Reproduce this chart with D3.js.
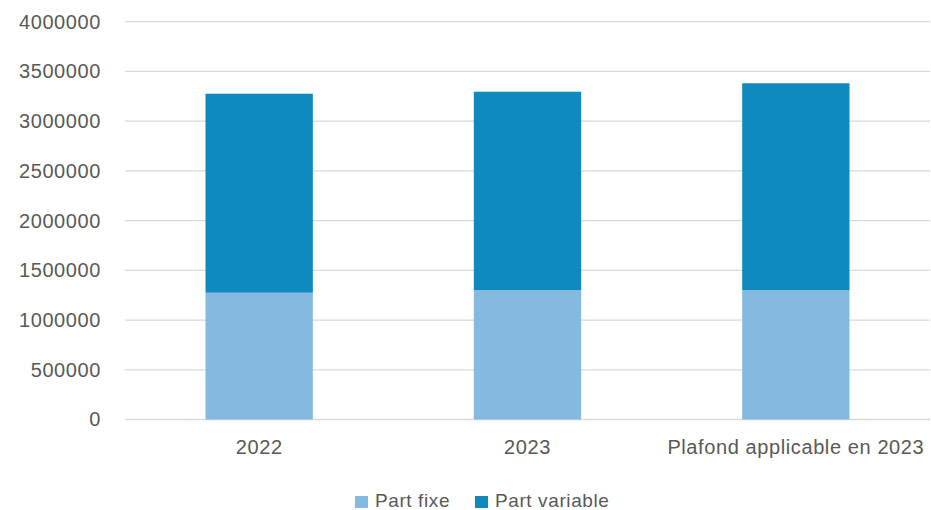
<!DOCTYPE html>
<html>
<head>
<meta charset="utf-8">
<script src="https://cdn.jsdelivr.net/npm/d3@7"></script>
<style>
  body { margin: 0; background: #fff; }
  svg text { font-family: 'Liberation Sans', Arial, sans-serif; fill: #595959; letter-spacing: 0.6px; }
</style>
</head>
<body>
<div id="chart"></div>
<script>
// Rémunération : part fixe / part variable
const categories = ['2022', '2023', 'Plafond applicable en 2023'];
const partFixe = [1275000, 1302000, 1302000];
const partVariable = [2001000, 1994000, 2079000];
const yTicks = [0, 500000, 1000000, 1500000, 2000000, 2500000, 3000000, 3500000, 4000000];
const seriesNames = ['Part fixe', 'Part variable'];
const seriesColors = ['#85b9e0', '#0e8abe'];

(function () {
    const width = 931, height = 510;
    const margin = { top: 21.7, right: 1, bottom: 90.5, left: 125 };
    const innerW = width - margin.left - margin.right;
    const innerH = height - margin.top - margin.bottom;
    const font = "'Liberation Sans', Arial, sans-serif";

    const svg = d3.select('#chart').append('svg')
        .attr('width', width).attr('height', height);
    const g = svg.append('g').attr('transform', `translate(${margin.left},${margin.top})`);

    const x = d3.scaleBand().domain(categories).range([0, innerW])
        .paddingInner(0.6).paddingOuter(0.3);
    const y = d3.scaleLinear().domain([0, 4000000]).range([innerH, 0]);

    // Grid
    g.selectAll('.hgrid').data(yTicks).enter().append('line')
        .attr('x1', 0).attr('x2', innerW)
        .attr('y1', d => y(d)).attr('y2', d => y(d))
        .attr('stroke', '#d9d9d9').attr('stroke-width', 1.3);

    // Stack
    const rows = categories.map((c, i) => ({ cat: c, fixe: partFixe[i], variable: partVariable[i] }));
    const stack = d3.stack().keys(['fixe', 'variable'])(rows);

    g.selectAll('.series').data(stack).enter().append('g')
        .attr('fill', (d, i) => seriesColors[i])
        .selectAll('rect').data(d => d).enter().append('rect')
        .attr('x', d => x(d.data.cat))
        .attr('width', x.bandwidth())
        .attr('y', d => y(d[1]))
        .attr('height', d => y(d[0]) - y(d[1]));

    // Y axis
    const yAxis = g.append('g')
        .call(d3.axisLeft(y).tickValues(yTicks).tickSize(0).tickPadding(24)
            .tickFormat(d => d3.format('d')(d)));
    yAxis.select('.domain').remove();
    yAxis.selectAll('text').attr('font-size', '20px').attr('fill', '#595959')
        .attr('font-family', font);

    // X axis
    const xAxis = g.append('g').attr('transform', `translate(0,${innerH})`)
        .call(d3.axisBottom(x).tickSize(0).tickPadding(20));
    xAxis.select('.domain').remove();
    xAxis.selectAll('text').attr('font-size', '20px').attr('fill', '#595959')
        .attr('font-family', font);

    // Legend
    const legendX = [355, 475];
    seriesNames.forEach((name, i) => {
        const lg = svg.append('g').attr('transform', `translate(${legendX[i]},496)`);
        lg.append('rect').attr('width', 13).attr('height', 12).attr('fill', seriesColors[i]);
        lg.append('text').attr('x', 20).attr('y', 10.5)
            .attr('font-size', '19px').text(name);
    });
})();
</script>
</body>
</html>
